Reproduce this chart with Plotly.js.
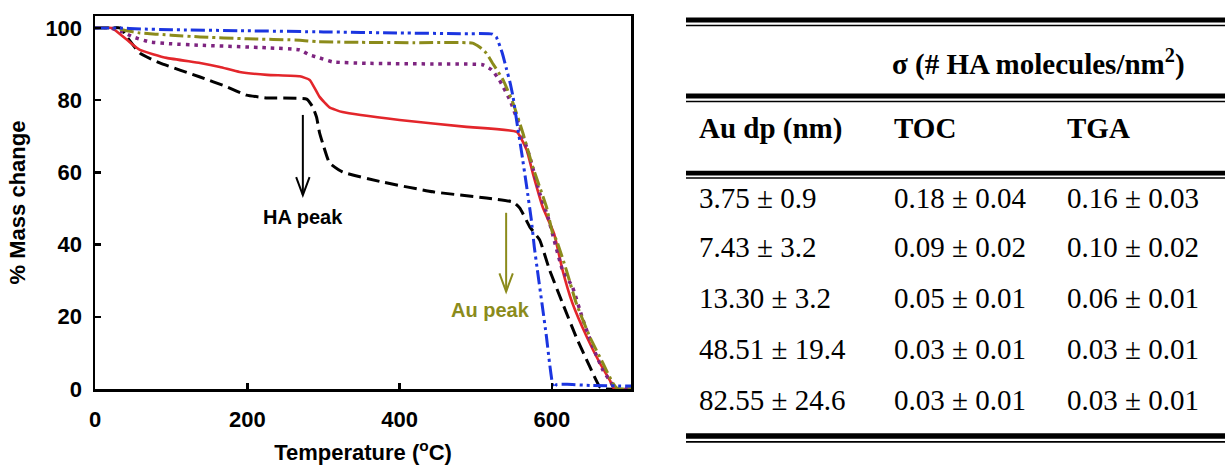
<!DOCTYPE html>
<html>
<head>
<meta charset="utf-8">
<script src="https://cdn.plot.ly/plotly-3.0.1.min.js"></script>
<style>html,body{margin:0;padding:0;background:#fff;}#chart{width:1225px;height:466px;}</style>
</head>
<body>
<div id="chart"></div>
<script>
// ---- TGA curves (% mass change vs temperature, °C) ----
const blackT = [0, 33, 42, 59, 85, 138, 173, 199, 226, 278, 286, 291, 295, 299, 308, 325, 378, 444, 514, 549, 558, 571, 584, 597, 614, 632, 650, 663, 670, 704];
const blackM = [100, 100, 97.5, 93, 90.3, 86.4, 83.7, 81.4, 80.6, 80.3, 78.1, 75.3, 70.9, 68.1, 62.6, 60.1, 57.3, 54.6, 52.9, 51.8, 50.1, 44.9, 41.3, 33, 23.8, 14.4, 6.1, 0.6, 0, 0];

const redT = [0, 22, 42, 59, 94, 138, 164, 190, 226, 269, 282, 295, 308, 325, 400, 488, 554, 567, 575, 588, 603, 614, 627, 646, 663, 676, 682, 704];
const redM = [100, 100, 96.7, 93.9, 91.7, 90.3, 89.2, 87.8, 87, 86.6, 85.6, 80.9, 78, 76.7, 74.5, 72.6, 71.2, 66.2, 59.8, 50.4, 43, 33, 23.8, 14.4, 7.2, 2.5, 0, 0];

const purpleT = [0, 20, 35, 50, 72, 100, 138, 226, 269, 282, 295, 312, 357, 450, 509, 521, 531, 545, 558, 571, 584, 595, 614, 627, 641, 654, 667, 678, 684, 704];
const purpleM = [100, 100, 99, 97.5, 96.1, 95.6, 95.2, 94.5, 93.9, 92.5, 91.7, 90.6, 90.2, 90, 89.8, 88.4, 85.6, 80, 72.6, 64.3, 54.3, 47.6, 33, 28.3, 19.1, 11.6, 5.3, 1.7, 0, 0];

const oliveT = [0, 25, 40, 59, 100, 138, 200, 269, 291, 350, 420, 496, 505, 514, 522, 536, 549, 562, 575, 593, 601, 606, 619, 632, 650, 667, 680, 686, 704];
const oliveM = [100, 100, 99.3, 98.6, 98, 97.5, 97, 96.6, 96.2, 96, 95.9, 95.8, 94.7, 93, 90.3, 85.6, 79.2, 70.9, 61.5, 50.4, 43.2, 41.3, 33, 23.8, 14.4, 7.2, 1.7, 0.2, 0];

const blueT = [0, 30, 60, 100, 200, 300, 400, 480, 522, 527, 535, 540, 545, 549, 555, 560, 567, 573, 577, 581, 587, 593, 597, 601, 603, 606, 620, 650, 704];
const blueM = [100, 100, 99.7, 99.5, 99.2, 98.9, 98.6, 98.4, 98.3, 97.5, 93, 89, 85, 81, 72.6, 66, 56, 47, 39.3, 33, 23.8, 14.4, 7.2, 1.2, 0.3, 1.2, 1.3, 1.0, 0.8];

// ---- Table values ----
const colHeaders = ['Au dp (nm)', 'TOC', 'TGA'];
const groupHeader = 'σ (# HA molecules/nm<sup>2</sup>)';
const auDpMean = [3.75, 7.43, 13.30, 48.51, 82.55];
const auDpSd   = [0.9, 3.2, 3.2, 19.4, 24.6];
const tocMean  = [0.18, 0.09, 0.05, 0.03, 0.03];
const tocSd    = [0.04, 0.02, 0.01, 0.01, 0.01];
const tgaMean  = [0.16, 0.10, 0.06, 0.03, 0.03];
const tgaSd    = [0.03, 0.02, 0.01, 0.01, 0.01];

// ---- layout helpers (pixel -> paper) ----
const W = 1225, H = 466;
const px = x => x / W;
const py = y => 1 - y / H;

const sansB = {family: 'Liberation Sans, Arial, sans-serif', size: 22, color: '#000', weight: 'bold'};
const serif = 'Liberation Serif, Times New Roman, serif';

function line(x, y, color, dash, width) {
  return {x: x, y: y, type: 'scatter', mode: 'lines', hoverinfo: 'skip',
          line: {color: color, dash: dash, width: width, shape: 'spline', smoothing: 0.4}};
}
const traces = [
  line(blackT, blackM, '#000000', '13px,6px', 3),
  line(redT, redM, '#E3262B', 'solid', 2.6),
  line(purpleT, purpleM, '#7E2480', '3.5px,5px', 3.5),
  line(oliveT, oliveM, '#8B8B1B', '14px,4px,3px,4px', 3),
  line(blueT, blueM, '#1B35E0', '14px,4px,3px,4px,3px,4px', 3)
];

// ---- table shapes ----
const shapes = [];
function rule(y0, y1) {
  shapes.push({type: 'rect', xref: 'paper', yref: 'paper', x0: px(686), x1: px(1225),
               y0: py(y1), y1: py(y0), fillcolor: '#000', line: {width: 0}});
}
[[17.5, 22.5, 24.7, 26.3], [93.5, 98.5, 100.7, 102.3], [170.8, 175.6, 177.3, 178.8], [433.3, 438.8, 441, 442.7]]
  .forEach(r => { rule(r[0], r[1]); rule(r[2], r[3]); });

// arrows (HA peak, Au peak)
function arrow(x, yTop, yHead, color) {
  shapes.push({type: 'line', xref: 'x', yref: 'y', x0: x, x1: x, y0: yTop, y1: yHead, line: {color: color, width: 2}});
  shapes.push({type: 'path', xref: 'x', yref: 'y',
               path: `M ${x - 8.8},${yHead + 5} L ${x},${yHead} L ${x + 8.8},${yHead + 5}`,
               line: {color: color, width: 2}});
}
arrow(273, 75.9, 53.7, '#000');
arrow(540, 48.8, 27, '#8B8B1B');

// ---- table annotations ----
const ann = [];
function cell(text, x, y, bold) {
  ann.push({xref: 'paper', yref: 'paper', x: px(x), y: py(y), xanchor: 'left', yanchor: 'middle',
            showarrow: false, text: bold ? '<b>' + text + '</b>' : text,
            font: {family: serif, size: 29, color: '#000'}});
}
const colX = [697, 892, 1065];
cell(groupHeader, 890, 63, true);
colHeaders.forEach((h, i) => cell(h, colX[i], 128, true));
const rowY = [198, 247, 298, 349, 400];
auDpMean.forEach((m, i) => {
  cell(m.toFixed(2) + ' ± ' + auDpSd[i].toFixed(1), colX[0], rowY[i], false);
  cell(tocMean[i].toFixed(2) + ' ± ' + tocSd[i].toFixed(2), colX[1], rowY[i], false);
  cell(tgaMean[i].toFixed(2) + ' ± ' + tgaSd[i].toFixed(2), colX[2], rowY[i], false);
});

// chart labels
ann.push({xref: 'x', yref: 'y', x: 273, y: 47.5, text: '<b>HA peak</b>', showarrow: false,
          font: {family: sansB.family, size: 20, color: '#000'}});
ann.push({xref: 'x', yref: 'y', x: 520, y: 21.9, text: '<b>Au peak</b>', showarrow: false,
          font: {family: sansB.family, size: 20, color: '#8B8B1B'}});

const layout = {
  width: W, height: H,
  margin: {l: 0, r: 0, t: 0, b: 0},
  paper_bgcolor: '#fff', plot_bgcolor: '#fff',
  showlegend: false,
  xaxis: {
    domain: [px(95), px(631)], range: [0, 704],
    tickvals: [0, 200, 400, 600], ticks: 'inside', ticklen: 6, tickwidth: 2.5, tickcolor: '#000',
    showline: true, linewidth: 2.5, linecolor: '#000', mirror: true,
    showgrid: false, zeroline: false, tickfont: sansB, ticklabelstandoff: 9,
    title: {text: 'Temperature (<sup>o</sup>C)', font: sansB, standoff: 14}
  },
  yaxis: {
    domain: [py(389), py(16)], range: [0, 103.3],
    tickvals: [0, 20, 40, 60, 80, 100], ticks: 'inside', ticklen: 6, tickwidth: 2.5, tickcolor: '#000',
    showline: true, linewidth: 2.5, linecolor: '#000', mirror: true,
    showgrid: false, zeroline: false, tickfont: sansB, ticklabelstandoff: 6,
    title: {text: '% Mass change', font: sansB, standoff: 14}
  },
  shapes: shapes,
  annotations: ann
};

Plotly.newPlot('chart', traces, layout, {staticPlot: true, displayModeBar: false});
</script>
</body>
</html>
